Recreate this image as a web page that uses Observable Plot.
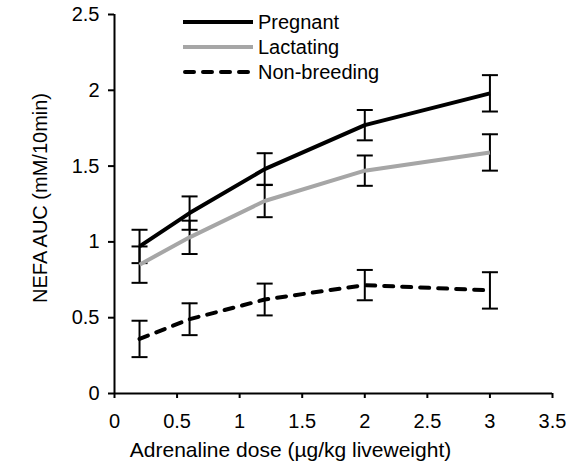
<!DOCTYPE html>
<html>
<head>
<meta charset="utf-8">
<script src="https://cdn.jsdelivr.net/npm/d3@7"></script>
<script src="https://cdn.jsdelivr.net/npm/@observablehq/plot@0.6"></script>
<style>
  html, body { margin: 0; padding: 0; background: #fff; }
  #chart svg { display: block; }
</style>
</head>
<body>
<div id="chart"></div>
<script>
const doses = [0.2, 0.6, 1.2, 2, 3];
const seriesNames = ["Pregnant", "Lactating", "Non-breeding"];
const pregnant = [0.97, 1.19, 1.48, 1.77, 1.98];
const pregnantErr = [0.11, 0.11, 0.105, 0.10, 0.12];
const lactating = [0.85, 1.03, 1.27, 1.47, 1.59];
const lactatingErr = [0.12, 0.11, 0.107, 0.10, 0.12];
const nonBreeding = [0.36, 0.49, 0.62, 0.715, 0.68];
const nonBreedingErr = [0.12, 0.105, 0.105, 0.10, 0.12];
const xTicks = [0, 0.5, 1, 1.5, 2, 2.5, 3, 3.5];
const yTicks = [0, 0.5, 1, 1.5, 2, 2.5];
const xTitle = "Adrenaline dose (µg/kg liveweight)";
const yTitle = "NEFA AUC (mM/10min)";

const colors = {"Pregnant": "#000000", "Lactating": "#a6a6a6", "Non-breeding": "#000000"};
const dashes = {"Pregnant": null, "Lactating": null, "Non-breeding": "9,9"};
const caps = {"Pregnant": "butt", "Lactating": "butt", "Non-breeding": "round"};

const values = [pregnant, lactating, nonBreeding];
const errs = [pregnantErr, lactatingErr, nonBreedingErr];
const rows = [];
seriesNames.forEach((s, i) => {
  doses.forEach((d, j) => {
    rows.push({series: s, x: d, y: values[i][j], lo: values[i][j] - errs[i][j], hi: values[i][j] + errs[i][j]});
  });
});

const cap = {draw(ctx) { ctx.moveTo(-8, 0); ctx.lineTo(8, 0); }};
const font = "'Liberation Sans', Arial, sans-serif";

const chart = Plot.plot({
  width: 566,
  height: 470,
  marginLeft: 114,
  marginRight: 14,
  marginTop: 14,
  marginBottom: 77,
  style: {fontFamily: font, fontSize: "20px", color: "#000", background: "#fff"},
  x: {domain: [0, 3.5]},
  y: {domain: [0, 2.5]},
  marks: [
    Plot.axisX({ticks: xTicks, tickFormat: d => String(d), tickSize: 5, tickPadding: 15, strokeWidth: 2,
      label: null, fontSize: 20}),
    Plot.axisY({ticks: yTicks, tickFormat: d => String(d), tickSize: 6, tickPadding: 9, strokeWidth: 2,
      label: null, fontSize: 20}),
    Plot.text([xTitle], {frameAnchor: "bottom", lineAnchor: "middle", text: d => d, dy: 57, dx: -43, fontSize: 21, textAnchor: "middle"}),
    Plot.text([yTitle], {frameAnchor: "left", text: d => d, rotate: -90, dx: -74, dy: -6, fontSize: 20, textAnchor: "middle"}),
    Plot.ruleX([0], {stroke: "#000", strokeWidth: 2}),
    Plot.ruleY([0], {stroke: "#000", strokeWidth: 2}),
    Plot.ruleX(rows, {x: "x", y1: "lo", y2: "hi", stroke: "#000", strokeWidth: 2}),
    Plot.dot(rows, {x: "x", y: "lo", symbol: cap, fill: "none", stroke: "#000", strokeWidth: 2}),
    Plot.dot(rows, {x: "x", y: "hi", symbol: cap, fill: "none", stroke: "#000", strokeWidth: 2}),
    ...seriesNames.map(s => Plot.line(rows.filter(r => r.series === s), {
      x: "x", y: "y", stroke: colors[s], strokeWidth: 4, strokeDasharray: dashes[s], strokeLinecap: caps[s]
    }))
  ]
});

document.getElementById("chart").appendChild(chart);

// legend inside the plot area
const svg = d3.select(chart);
const lg = svg.append("g").attr("font-family", font).attr("font-size", 20).attr("text-anchor", "start");
seriesNames.forEach((s, i) => {
  const yy = 22 + i * 25;
  lg.append("line").attr("x1", dashes[s] ? 185 : 183).attr("x2", 253).attr("y1", yy).attr("y2", yy)
    .attr("stroke", colors[s]).attr("stroke-width", 4)
    .attr("stroke-linecap", caps[s])
    .attr("stroke-dasharray", dashes[s]);
  lg.append("text").attr("x", 258).attr("y", yy).attr("dy", "0.35em").attr("fill", "#000").text(s);
});
</script>
</body>
</html>
